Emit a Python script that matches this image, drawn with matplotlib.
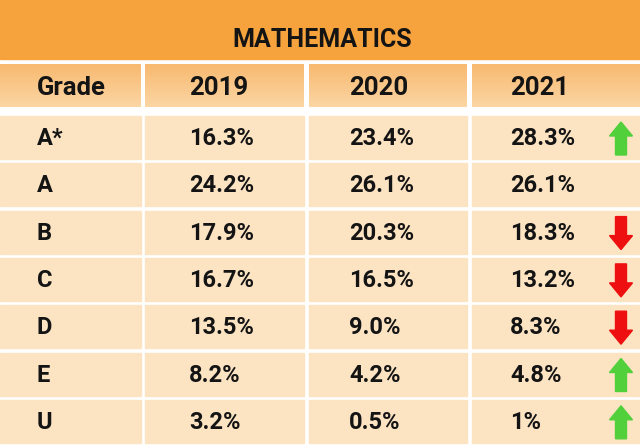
import matplotlib
matplotlib.use("Agg")
import matplotlib.pyplot as plt
from matplotlib.patches import Rectangle, Polygon
import numpy as np

title = "MATHEMATICS"
columns = ["Grade", "2019", "2020", "2021"]
grades = ["A*", "A", "B", "C", "D", "E", "U"]
y2019 = ["16.3%", "24.2%", "17.9%", "16.7%", "13.5%", "8.2%", "3.2%"]
y2020 = ["23.4%", "26.1%", "20.3%", "16.5%", "9.0%", "4.2%", "0.5%"]
y2021 = ["28.3%", "26.1%", "18.3%", "13.2%", "8.3%", "4.8%", "1%"]
trend = ["up", None, "down", "down", "down", "up", "up"]

W, H = 640, 447
fig = plt.figure(figsize=(6.4, 4.47), dpi=100)
ax = fig.add_axes([0, 0, 1, 1])
ax.axis("off")
fig.patch.set_facecolor("white")

FONT = "Roboto"
TXT = "#141414"

# title band
ax.add_patch(Rectangle((0, 0), W, 59, color="#F7A33D", zorder=1))
ax.text(322, 40, title, fontsize=18, fontweight="bold", family=FONT,
        color=TXT, ha="center", va="center", zorder=3)

col_l = [0, 145, 309, 472]
col_r = [141, 304, 467, W]
text_x = [37, 189, 349, 510]

# header row with vertical gradient
hy0, hy1 = 64, 107
grad = np.linspace(0, 1, 50).reshape(-1, 1)
c_top = np.array([0xF8, 0xB9, 0x70]) / 255
c_bot = np.array([0xFB, 0xD6, 0xA4]) / 255
img = c_top[None, None, :] * (1 - grad[:, :, None]) + c_bot[None, None, :] * grad[:, :, None]
for i, name in enumerate(columns):
    ax.imshow(img, extent=(col_l[i], col_r[i], hy1, hy0), aspect="auto", zorder=1,
              interpolation="bilinear")
    ax.text(text_x[i], (hy0 + hy1) / 2 + 2.5, name, fontsize=18.5, fontweight="bold",
            family=FONT, color=TXT, ha="left", va="center", zorder=3)

row_top0 = 116
row_h = 47.3
cell_h = 43
body = "#FCE4C3"
for r, g in enumerate(grades):
    y0 = row_top0 + r * row_h
    for i in range(4):
        ax.add_patch(Rectangle((col_l[i], y0), col_r[i] - col_l[i], cell_h,
                               color=body, zorder=1))
    yc = y0 + cell_h / 2 + 1
    vals = [g, y2019[r], y2020[r], y2021[r]]
    for i, v in enumerate(vals):
        ax.text(text_x[i], yc, v, fontsize=17, fontweight="bold", family=FONT,
                color=TXT, ha="left", va="center", zorder=3)
    t = trend[r]
    if t is not None:
        cx = 621
        sw, hw, hh, tot = 5.5, 11.5, 14, 33
        top, bot = yc - tot / 2, yc + tot / 2
        if t == "up":
            pts = [(cx, top), (cx + hw, top + hh), (cx + sw, top + hh), (cx + sw, bot),
                   (cx - sw, bot), (cx - sw, top + hh), (cx - hw, top + hh)]
            col = "#52D03C"
        else:
            pts = [(cx, bot), (cx + hw, bot - hh), (cx + sw, bot - hh), (cx + sw, top),
                   (cx - sw, top), (cx - sw, bot - hh), (cx - hw, bot - hh)]
            col = "#EE1010"
        ax.add_patch(Polygon(pts, closed=True, color=col, zorder=2))

ax.set_xlim(0, W)
ax.set_ylim(H, 0)
fig.savefig("out.png", dpi=100, facecolor="white")
